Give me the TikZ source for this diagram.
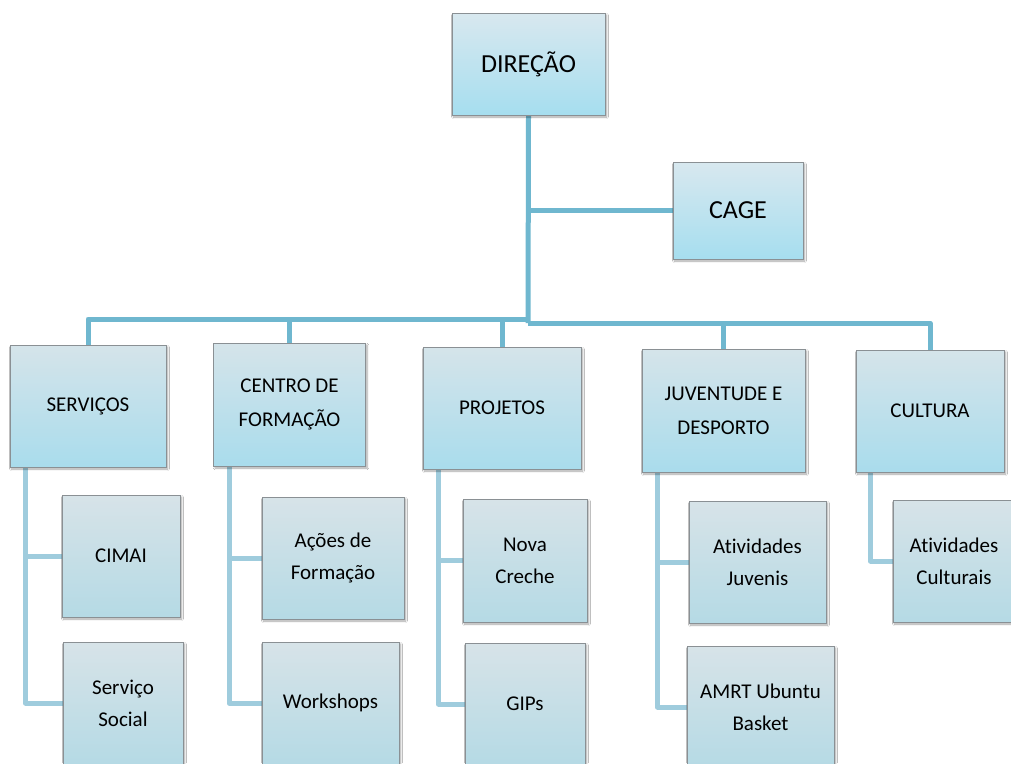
\documentclass[tikz,border=0pt]{standalone}
\usepackage{fontspec}
\setmainfont[Ligatures=NoCommon]{Carlito}
\usetikzlibrary{shadows.blur,backgrounds}
\definecolor{mainline}{HTML}{6FB7CF}
\definecolor{subline}{HTML}{9FCCDD}
\definecolor{boxborder}{HTML}{8A9094}
\definecolor{topA}{HTML}{D8E8EF}
\definecolor{botA}{HTML}{A6DEEF}
\definecolor{topB}{HTML}{D5E4EA}
\definecolor{botB}{HTML}{A9DCEC}
\definecolor{topC}{HTML}{D7E3E8}
\definecolor{botC}{HTML}{B5DAE5}
\tikzset{
  orgbox/.style={draw=boxborder, line width=0.8pt, inner sep=0pt, align=center,
    blur shadow={shadow xshift=1.5pt, shadow yshift=-2pt, shadow blur steps=6, shadow opacity=35}},
  topbox/.style={orgbox, top color=topA, bottom color=botA, font=\fontsize{26}{31}\selectfont},
  midbox/.style={orgbox, top color=topB, bottom color=botB, font=\fontsize{21}{34}\selectfont},
  lowbox/.style={orgbox, top color=topC, bottom color=botC, font=\fontsize{21}{32}\selectfont},
  mainconn/.style={draw=mainline, line width=5pt, line join=round, line cap=butt},
  subconn/.style={draw=subline, line width=5pt, line join=round, line cap=butt},
}
\begin{document}
\begin{tikzpicture}[x=1pt,y=-1pt]
\useasboundingbox (0,0) rectangle (1011,763);
\clip (0,0) rectangle (1011,763);
% boxes
\node[topbox, minimum width=153pt, minimum height=102pt] (dir) at (528.5,64) {DIREÇÃO};
\node[topbox, minimum width=130pt, minimum height=97pt] (cage) at (738,210.5) {CAGE};
\node[midbox, minimum width=156pt, minimum height=122pt] (serv) at (88,406) {SERVIÇOS};
\node[midbox, minimum width=152pt, minimum height=123pt] (cent) at (289.5,404.5) {CENTRO DE\\FORMAÇÃO};
\node[midbox, minimum width=158pt, minimum height=122pt] (proj) at (502,408) {PROJETOS};
\node[midbox, minimum width=163pt, minimum height=123pt] (juv) at (723.5,410.5) {JUVENTUDE E\\DESPORTO};
\node[midbox, minimum width=148pt, minimum height=122pt] (cul) at (930,411) {CULTURA};
\node[lowbox, minimum width=118pt, minimum height=122pt] (cimai) at (121,556) {CIMAI};
\node[lowbox, minimum width=120pt, minimum height=122pt] (soc) at (123,703) {Serviço\\Social};
\node[lowbox, minimum width=142pt, minimum height=122pt] (acoes) at (333,558) {Ações de\\Formação};
\node[lowbox, minimum width=137pt, minimum height=122pt] (work) at (330.5,703) {Workshops};
\node[lowbox, minimum width=124pt, minimum height=123pt] (nova) at (525,560.5) {Nova\\Creche};
\node[lowbox, minimum width=120pt, minimum height=122pt] (gips) at (525,704) {GIPs};
\node[lowbox, minimum width=137pt, minimum height=122pt] (ativj) at (757.5,562) {Atividades\\Juvenis};
\node[lowbox, minimum width=147pt, minimum height=122pt] (amrt) at (760.5,707) {AMRT Ubuntu\\Basket};
\node[lowbox, minimum width=122pt, minimum height=122pt] (ativc) at (954,561) {Atividades\\Culturais};
\coordinate (bj) at (528,323);
\coordinate (bl) at (528,319);
\begin{scope}[on background layer]
\fill[white] (0,0) rectangle (1011,763);
% main trunk and bus
\draw[mainconn] (dir.south) -- (bj);
\draw[mainconn] (dir.south |- cage.west) -- (cage.west);
\draw[mainconn] (serv.north) -- (serv.north |- bl) -- (bl);
\draw[mainconn] (cent.north) -- (cent.north |- bl);
\draw[mainconn] (proj.north) -- ([yshift=-2pt]proj.north |- bl);
\draw[mainconn] (bj) -| (cul.north);
\draw[mainconn] (juv.north) -- (juv.north |- bj);
% sub connectors
\draw[subconn] ([xshift=16pt]serv.south west) |- (soc.west);
\draw[subconn] ([xshift=16pt]serv.south west |- cimai.west) -- (cimai.west);
\draw[subconn] ([xshift=16pt]cent.south west) |- (work.west);
\draw[subconn] ([xshift=16pt]cent.south west |- acoes.west) -- (acoes.west);
\draw[subconn] ([xshift=16pt]proj.south west) |- (gips.west);
\draw[subconn] ([xshift=16pt]proj.south west |- nova.west) -- (nova.west);
\draw[subconn] ([xshift=16pt]juv.south west) |- (amrt.west);
\draw[subconn] ([xshift=16pt]juv.south west |- ativj.west) -- (ativj.west);
\draw[subconn] ([xshift=15pt]cul.south west) |- (ativc.west);
\end{scope}
\end{tikzpicture}
\end{document}
